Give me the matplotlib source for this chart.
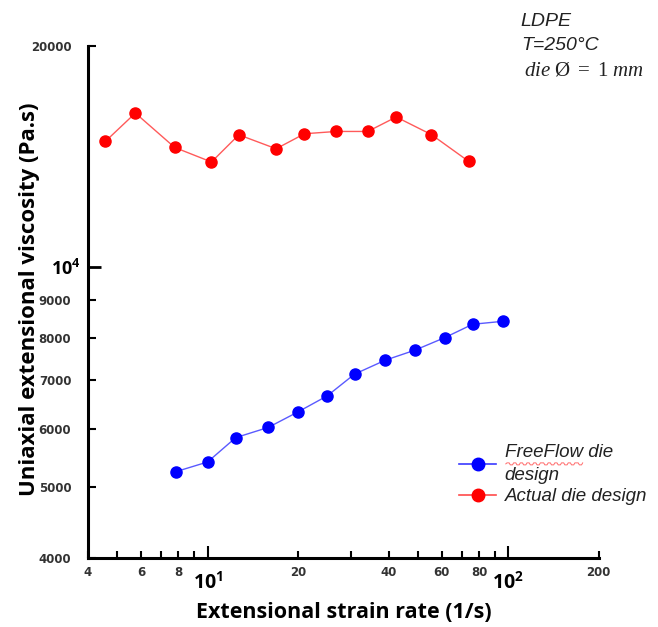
import numpy as np
import matplotlib
matplotlib.use("Agg")
import matplotlib.pyplot as plt
from matplotlib.lines import Line2D

# mathtext: serif italic for the die note, sans bold for the 10^n labels
plt.rcParams['mathtext.fontset'] = 'custom'
plt.rcParams['mathtext.rm'] = 'Liberation Serif'
plt.rcParams['mathtext.it'] = 'Liberation Serif:italic'
plt.rcParams['mathtext.bf'] = 'Open Sans:bold'

# data
rate_freeflow = [7.87, 10.0, 12.4, 15.9, 19.95, 25.0, 30.8, 39.0, 49.0, 61.6, 76.1, 96.4]
visc_freeflow = [5250, 5410, 5840, 6030, 6330, 6660, 7130, 7450, 7690, 8000, 8340, 8420]

rate_actual = [4.57, 5.75, 7.77, 10.3, 12.7, 16.9, 21.0, 26.8, 34.1, 42.4, 55.5, 73.8]
visc_actual = [14820, 16200, 14540, 13890, 15130, 14480, 15180, 15290, 15290, 16000, 15140, 13920]

x_minor = [4, 5, 6, 7, 8, 9, 20, 30, 40, 50, 60, 70, 80, 90, 200]
x_minor_labels = ['4', '', '6', '', '8', '', '20', '', '40', '', '60', '', '80', '', '200']
x_major = [10, 100]
x_major_labels = [r'$\mathbf{10^1}$', r'$\mathbf{10^2}$']

y_minor = [4000, 5000, 6000, 7000, 8000, 9000, 20000]
y_minor_labels = ['4000', '5000', '6000', '7000', '8000', '9000', '20000']
y_major = [10000]
y_major_labels = [r'$\mathbf{10^4}$']

fig = plt.figure(figsize=(6.58, 6.27), dpi=100)
ax = fig.add_axes([0.1337, 0.110, 0.7763, 0.8166])

# lines
ax.plot(rate_freeflow, visc_freeflow, color='#5a5aff', lw=1.0, zorder=2)
ax.plot(rate_freeflow, visc_freeflow, 'o', color='blue', ms=8, zorder=3)
ax.plot(rate_actual, visc_actual, color='#ff5a5a', lw=1.0, zorder=2)
ax.plot(rate_actual, visc_actual, 'o', color='red', ms=8, zorder=3)

ax.set_xscale('log')
ax.set_yscale('log')
ax.set_xlim(4, 200)
ax.set_ylim(4000, 20000)

for s in ['top', 'right']:
    ax.spines[s].set_visible(False)
for s in ['left', 'bottom']:
    ax.spines[s].set_linewidth(2.2)

# x ticks
ax.set_xticks(x_major, x_major_labels)
ax.set_xticks(x_minor, x_minor_labels, minor=True)
ax.tick_params(axis='x', which='major', direction='in', length=9, width=1.5,
               labelsize=14, pad=9, colors='black')
ax.tick_params(axis='x', which='minor', direction='in', length=5, width=1.5,
               labelsize=8.5, pad=6, labelcolor='#333333')

# y ticks
ax.set_yticks(y_major, y_major_labels)
ax.set_yticks(y_minor, y_minor_labels, minor=True)
ax.tick_params(axis='y', which='major', direction='in', length=9, width=2,
               labelsize=13, pad=5)
ax.tick_params(axis='y', which='minor', direction='in', length=6, width=1.5,
               labelsize=8.5, pad=12, labelcolor='#333333')
for lab in ax.get_xticklabels(minor=True) + ax.get_yticklabels(minor=True):
    lab.set_fontweight('bold')

ax.set_xlabel('Extensional strain rate (1/s)', fontsize=15.5, fontweight='bold',
              family='Open Sans', labelpad=7)
ax.set_ylabel('Uniaxial extensional viscosity (Pa.s)', fontsize=16, fontweight='bold',
              family='Open Sans', labelpad=0)
ax.yaxis.set_label_coords(-0.094, 0.505)

# annotation top right
fig.text(520 / 658, 1 - 22 / 627, 'LDPE', fontsize=14, style='italic',
         family='Liberation Sans', color='#222222', va='center')
fig.text(521 / 658, 1 - 45 / 627, 'T=250°C', fontsize=14, style='italic',
         family='Liberation Sans', color='#222222', va='center')
fig.text(524 / 658, 1 - 69 / 627, r'$die\ \mathrm{\O}\ =\ 1\ mm$', fontsize=15,
         color='#222222', va='center')

# legend
handles = [
    Line2D([], [], color='#3a3aff', marker='o', mfc='blue', mec='blue', ms=9, lw=1.2),
    Line2D([], [], color='#ff4a4a', marker='o', mfc='red', mec='red', ms=9, lw=1.2),
]
leg = fig.legend(handles, ['FreeFlow die\ndesign', 'Actual die design'],
                 loc='upper left', bbox_to_anchor=(442 / 658, 1 - 427 / 627),
                 frameon=False, handlelength=2.0, handletextpad=0.45,
                 labelspacing=0.2,
                 prop={'family': 'Liberation Sans', 'style': 'italic', 'size': 13.5})
for t in leg.get_texts():
    t.set_color('#222222')
leg.get_texts()[0].set_linespacing(1.5)

# spell-check squiggle under "FreeFlow"
fig.canvas.draw()
bb = leg.get_texts()[0].get_window_extent()
xs = np.linspace(bb.x0 + 1, bb.x0 + 0.72 * bb.width, 70)
ys = bb.y1 - 20 + 1.0 * np.sign(np.sin(np.linspace(0, 70, 70)))
fig.add_artist(Line2D(xs / fig.bbox.width, ys / fig.bbox.height,
                      color='#ff6a6a', lw=0.7, transform=fig.transFigure))

fig.savefig('out.png', dpi=100)
